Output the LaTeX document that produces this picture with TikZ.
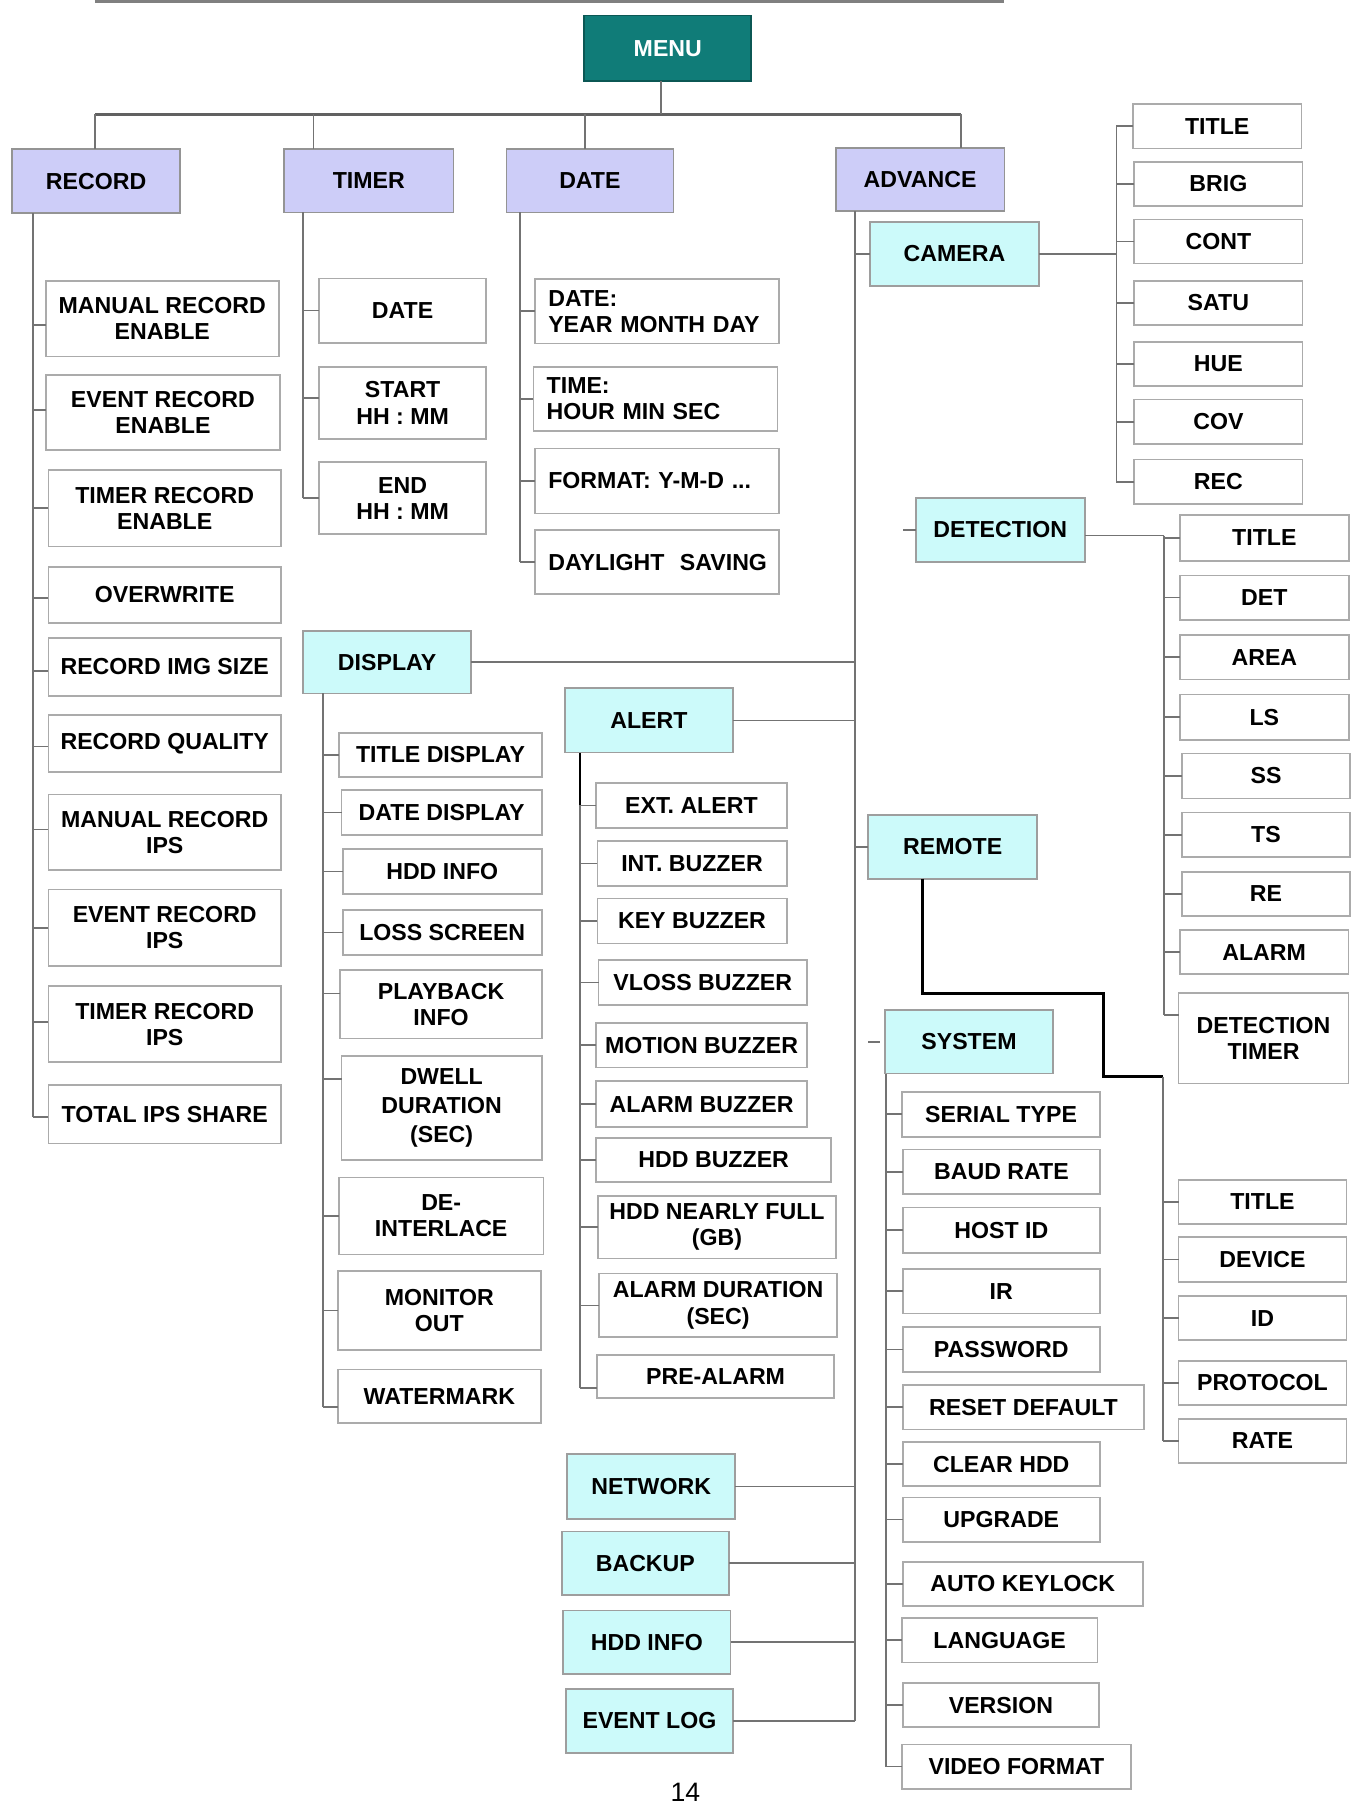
\documentclass[tikz,border=0pt]{standalone}
\usepackage{fontspec}
\setmainfont{Liberation Sans}
\frenchspacing
\definecolor{lav}{RGB}{205,205,248}
\definecolor{cy}{RGB}{204,250,250}
\definecolor{tealbox}{RGB}{16,124,120}
\newcommand\mybox[7][]{\node[box,#1,minimum width={#5pt-#3pt},minimum height={#6pt-#4pt}] (#2) at ({(#3+#5)/2},{(#4+#6)/2}) {#7};}
\newcommand\tk[3][0]{\path ([yshift=#1pt]#3.west) coordinate (#3t); \draw[conn] (#3t) -- (#3t -| #2);}
\tikzset{
  box/.style={draw=black!33, line width=1.5pt, fill=white, inner sep=0pt, outer sep=0pt,
    align=center, font=\fontsize{20}{22.5}\selectfont\bfseries, text=black},
  pbox/.style={fill=lav, draw=black!42},
  cbox/.style={fill=cy, draw=black!38},
  mbox/.style={fill=tealbox, draw=tealbox!70!black, text=white},
  lbox/.style={align=left, inner xsep=11pt, text width=188pt},
  conn/.style={draw=black!55, line width=1.4pt},
  busline/.style={draw=black!62, line width=2pt},
  thickline/.style={draw=black, line width=2.6pt},
}
\begin{document}
\begin{tikzpicture}[x=1pt,y=-1pt]
\fill[white] (0,0) rectangle (1172,1560);
\useasboundingbox (0,0) rectangle (1172,1560);
% header rule
\draw[line width=2.5pt, black!50] (82,1.2) -- (867,1.2);

% top level
\mybox[mbox]{MENU}{504.7}{13.5}{649}{69.7}{MENU}
\mybox[pbox]{RECORD}{10.5}{128.7}{155.5}{184.3}{RECORD}
\mybox[pbox]{TIMER}{245.3}{128.7}{391.8}{183.5}{TIMER}
\mybox[pbox]{DATE}{437.4}{128.7}{581.7}{183.5}{DATE}
\mybox[pbox]{ADVANCE}{721.9}{128}{867.6}{182.3}{ADVANCE}

\coordinate (j1) at (82.2,98.8);
\coordinate (j2) at (270.7,98.8);
\coordinate (j3) at (505.4,98.8);
\coordinate (j4) at (830,98.8);
\draw[busline] (j1) -- (j4);
\draw[conn] ([xshift=-6pt]MENU.south) -- ([xshift=-6pt]MENU.south |- j1);
\draw[conn] (j1) -- (j1 |- RECORD.north);
\draw[conn] (j2) -- (j2 |- TIMER.north);
\draw[conn] (j3) -- (j3 |- DATE.north);
\draw[conn] (j4) -- (j4 |- ADVANCE.north);

% trunk coordinates
\coordinate (recT) at (28.4,0);
\coordinate (tT) at (261.5,0);
\coordinate (dT) at (449.3,0);
\coordinate (aT) at (738.7,0);
\coordinate (cT) at (964.3,0);
\coordinate (eT) at (1005.5,0);
\coordinate (mT) at (1004.4,0);
\coordinate (sT) at (765.4,0);
\coordinate (pT) at (278.8,0);
\coordinate (lT) at (500.8,0);

% RECORD children
\mybox{r1}{39.5}{242.5}{240.8}{308}{MANUAL RECORD\\ENABLE}
\mybox{r2}{39.5}{324}{242}{388.8}{EVENT RECORD\\ENABLE}
\mybox{r3}{41.8}{406}{242.8}{472}{TIMER RECORD\\ENABLE}
\mybox{r4}{41.8}{489.6}{242.8}{538}{OVERWRITE}
\mybox{r5}{41.8}{551}{242.8}{601}{RECORD IMG SIZE}
\mybox{r6}{41.8}{617.8}{242.8}{666.7}{RECORD QUALITY}
\mybox{r7}{41.8}{686.3}{242.8}{751.7}{MANUAL RECORD\\IPS}
\mybox{r8}{41.8}{768.4}{242.8}{834.6}{EVENT RECORD\\IPS}
\mybox{r9}{41.8}{852}{242.8}{917.6}{TIMER RECORD\\IPS}
\mybox{r10}{41.8}{937.4}{242.8}{987.8}{TOTAL IPS SHARE}
\tk[-5.5]{recT}{r1}
\tk[2]{recT}{r2}
\tk{recT}{r3}
\tk[-2.5]{recT}{r4}
\tk[-3.5]{recT}{r5}
\tk[-2.5]{recT}{r6}
\tk[2.5]{recT}{r7}
\tk{recT}{r8}
\tk[2]{recT}{r9}
\tk[-2]{recT}{r10}
\draw[conn] (recT |- RECORD.south) -- (recT |- r10t);

% TIMER children
\mybox{t1}{275.6}{240.6}{420}{296}{DATE}
\mybox{t2}{275.6}{316.8}{420}{379.3}{START\\HH : MM}
\mybox{t3}{275.6}{399.2}{420}{461.4}{END\\HH : MM}
\tk{tT}{t1}
\tk[4.4]{tT}{t2}
\tk{tT}{t3}
\draw[conn] (tT |- TIMER.south) -- (tT |- t3t);

% DATE children
\mybox[lbox]{d1}{462.2}{241}{673}{296.6}{DATE:\\YEAR MONTH DAY}
\mybox[lbox]{d2}{460.8}{316.8}{671.6}{372}{TIME:\\HOUR MIN SEC}
\mybox[lbox]{d3}{462.2}{387.4}{673}{443.5}{FORMAT: Y-M-D ...}
\mybox[lbox]{d4}{462.2}{458}{673}{513.2}{\mbox{DAYLIGHT~~SAVING}}
\tk{dT}{d1}
\tk{dT}{d2}
\tk{dT}{d3}
\tk{dT}{d4}
\draw[conn] (dT |- DATE.south) -- (dT |- d4t);

% ADVANCE sub menus
\mybox[cbox]{CAMERA}{751.7}{191.5}{897.3}{246.8}{CAMERA}
\mybox[cbox]{DETECTION}{791}{430}{937}{485.3}{DETECTION}
\mybox[cbox]{DISPLAY}{262}{545}{406.7}{599}{DISPLAY}
\mybox[cbox]{ALERT}{488}{594.5}{633}{650}{ALERT}
\mybox[cbox]{REMOTE}{750}{704}{895.8}{759}{REMOTE}
\mybox[cbox]{SYSTEM}{764.3}{872.6}{909.7}{927.3}{SYSTEM}
\mybox[cbox]{NETWORK}{490}{1256}{635}{1312}{NETWORK}
\mybox[cbox]{BACKUP}{485.4}{1322.8}{629.5}{1377.8}{BACKUP}
\mybox[cbox]{HDDI}{486.5}{1391}{631}{1446}{HDD INFO}
\mybox[cbox]{EVLOG}{488.7}{1459}{633.3}{1514}{EVENT LOG}

\draw[conn] (aT |- ADVANCE.south) -- (aT |- EVLOG.east);
\draw[conn] (aT |- CAMERA.west) -- (CAMERA.west);
\draw[conn] (aT |- REMOTE.west) -- (REMOTE.west);
\draw[conn] (DISPLAY.east) -- (DISPLAY.east -| aT);
\draw[conn] (ALERT.east) -- (ALERT.east -| aT);
\draw[conn] (NETWORK.east) -- (NETWORK.east -| aT);
\draw[conn] (BACKUP.east) -- (BACKUP.east -| aT);
\draw[conn] (HDDI.east) -- (HDDI.east -| aT);
\draw[conn] (EVLOG.east) -- (EVLOG.east -| aT);
\draw[conn] (DETECTION.west) -- ++(-11,0);
\draw[conn] ([xshift=-4.6pt]SYSTEM.west) -- ++(-9.7,0);

% CAMERA children
\mybox{c1}{978.6}{89.9}{1124.2}{128.2}{TITLE}
\mybox{c2}{979.8}{139.7}{1125}{178}{BRIG}
\mybox{c3}{979.8}{189.5}{1125}{227.5}{CONT}
\mybox{c4}{979.8}{242.5}{1125}{280.8}{SATU}
\mybox{c5}{979.8}{295.2}{1125}{333.5}{HUE}
\mybox{c6}{979.8}{345}{1125}{383.6}{COV}
\mybox{c7}{979.8}{396.9}{1125}{435.5}{REC}
\tk{cT}{c1}
\tk{cT}{c2}
\tk{cT}{c3}
\tk{cT}{c4}
\tk{cT}{c5}
\tk{cT}{c6}
\tk{cT}{c7}
\draw[conn] (CAMERA.east) -- (CAMERA.east -| cT);
\draw[conn] (cT |- c1t) -- (cT |- c7t);

% DETECTION children
\mybox{e1}{1019.3}{445}{1165}{484.4}{TITLE}
\mybox{e2}{1019.3}{497}{1165}{535.5}{DET}
\mybox{e3}{1019.3}{548.5}{1165}{587}{AREA}
\mybox{e4}{1019.3}{600}{1165}{639}{LS}
\mybox{e5}{1020.7}{650.9}{1166.4}{689.7}{SS}
\mybox{e6}{1020.7}{701.8}{1166.4}{740.2}{TS}
\mybox{e7}{1020.7}{753}{1166.4}{791}{RE}
\mybox{e8}{1019}{803.5}{1164.8}{841.5}{ALARM}
\mybox{e9}{1018}{858}{1164.8}{936}{DETECTION\\TIMER}
\tk{eT}{e1}
\tk{eT}{e2}
\tk{eT}{e3}
\tk{eT}{e4}
\tk{eT}{e5}
\tk{eT}{e6}
\tk{eT}{e7}
\tk{eT}{e8}
\tk[20]{eT}{e9}
\draw[conn] ([yshift=-5pt]DETECTION.east) -- ([yshift=-5pt]DETECTION.east -| eT);
\draw[conn] ([yshift=-5pt]eT |- DETECTION.east) -- (eT |- e9t);

% REMOTE children
\mybox{m1}{1018}{1019.5}{1163}{1057}{TITLE}
\mybox{m2}{1018}{1068.5}{1163}{1107.5}{DEVICE}
\mybox{m3}{1018}{1119.5}{1163}{1157.5}{ID}
\mybox{m4}{1018}{1175.5}{1163}{1213.5}{PROTOCOL}
\mybox{m5}{1018}{1225.5}{1163}{1263.5}{RATE}
\tk{mT}{m1}
\tk{mT}{m2}
\tk{mT}{m3}
\tk{mT}{m4}
\tk{mT}{m5}
\coordinate (k1) at (953.5,858);
\coordinate (k2) at (1004.4,930);
\draw[thickline] ([xshift=-26pt]REMOTE.south) |- (k1) |- (k2);
\draw[conn] (k2) -- (mT |- m5t);

% SYSTEM children
\mybox{s1}{779}{943}{950.4}{982}{SERIAL TYPE}
\mybox{s2}{780}{993}{950}{1031.6}{BAUD RATE}
\mybox{s3}{780}{1043}{950}{1082}{HOST ID}
\mybox{s4}{779.8}{1096}{950}{1134.5}{IR}
\mybox{s5}{779.8}{1146.5}{950}{1185}{PASSWORD}
\mybox{s6}{779.8}{1196.5}{988.4}{1234.7}{RESET DEFAULT}
\mybox{s7}{779.8}{1245.5}{950}{1283.7}{CLEAR HDD}
\mybox{s8}{779.8}{1293.4}{950}{1331.9}{UPGRADE}
\mybox{s9}{779.8}{1349}{987}{1387.3}{AUTO KEYLOCK}
\mybox{s10}{779}{1397.7}{948}{1436}{LANGUAGE}
\mybox{s11}{779.8}{1453.8}{949.4}{1492}{VERSION}
\mybox{s12}{779}{1506.8}{977}{1545}{VIDEO FORMAT}
\tk{sT}{s1}
\tk{sT}{s2}
\tk{sT}{s3}
\tk{sT}{s4}
\tk{sT}{s5}
\tk{sT}{s6}
\tk{sT}{s7}
\tk{sT}{s8}
\tk{sT}{s9}
\tk{sT}{s10}
\tk{sT}{s11}
\tk{sT}{s12}
\draw[conn] (sT |- SYSTEM.south) -- (sT |- s12t);

% DISPLAY children
\mybox{p1}{293}{633}{468}{671}{TITLE DISPLAY}
\mybox{p2}{295}{682.6}{468}{721}{DATE DISPLAY}
\mybox{p3}{296}{733.5}{468}{772}{HDD INFO}
\mybox{p4}{296}{786}{468}{825}{LOSS SCREEN}
\mybox{p5}{294}{838}{468}{897}{PLAYBACK\\INFO}
\mybox{p6}{295}{912}{468}{1002}{DWELL\\[2.5pt]DURATION\\[2.5pt](SEC)}
\mybox{p7}{292.7}{1017}{469.5}{1083.6}{DE-\\INTERLACE}
\mybox{p8}{292}{1098}{467}{1166}{MONITOR\\OUT}
\mybox{p9}{292}{1183}{467}{1229}{WATERMARK}
\tk{pT}{p1}
\tk{pT}{p2}
\tk{pT}{p3}
\tk{pT}{p4}
\tk[9.5]{pT}{p5}
\tk[25]{pT}{p6}
\tk{pT}{p7}
\tk{pT}{p8}
\tk[-9.4]{pT}{p9}
\draw[conn] (pT |- DISPLAY.south) -- (pT |- p9t);

% ALERT children
\mybox{l1}{515}{676.5}{679.5}{715}{EXT. ALERT}
\mybox{l2}{516}{726.6}{679.5}{765}{INT. BUZZER}
\mybox{l3}{516}{776}{679.5}{815}{KEY BUZZER}
\mybox{l4}{517}{829.4}{697}{868}{VLOSS BUZZER}
\mybox{l5}{515}{883.5}{697}{922}{MOTION BUZZER}
\mybox{l6}{515}{934}{697}{973.5}{ALARM BUZZER}
\mybox{l7}{515}{983}{718}{1021}{HDD BUZZER}
\mybox{l8}{516.7}{1033}{722}{1087}{HDD NEARLY FULL\\(GB)}
\mybox{l9}{517.5}{1100}{723}{1155}{ALARM DURATION\\(SEC)}
\mybox{l10}{515.6}{1170.7}{720.6}{1207.6}{PRE-ALARM}
\tk{lT}{l1}
\tk{lT}{l2}
\tk{lT}{l3}
\tk{lT}{l4}
\tk{lT}{l5}
\tk{lT}{l6}
\tk{lT}{l7}
\tk{lT}{l8}
\tk{lT}{l9}
\tk[-10]{lT}{l10}
\draw[conn, draw=black, line width=2pt] (lT |- ALERT.south) -- (lT |- l1t);
\draw[conn] (lT |- l1t) -- (lT |- l10t);

% page number
\node[font=\fontsize{23}{23}\selectfont, inner sep=0pt, anchor=north] (pg) at (592,1540) {14};
\end{tikzpicture}
\end{document}
